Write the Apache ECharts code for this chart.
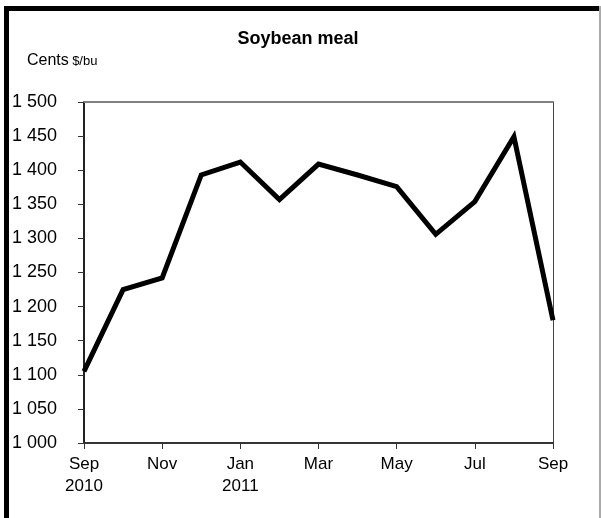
<!DOCTYPE html>
<html>
<head>
<meta charset="utf-8">
<script src="https://cdn.jsdelivr.net/npm/echarts@6/dist/echarts.min.js"></script>
<style>
html,body{margin:0;padding:0;background:#fff;}
#chart{width:601px;height:518px;}
</style>
</head>
<body>
<div id="chart"></div>
<script>
const months = ['Sep 2010','Oct 2010','Nov 2010','Dec 2010','Jan 2011','Feb 2011','Mar 2011','Apr 2011','May 2011','Jun 2011','Jul 2011','Aug 2011','Sep 2011'];
const xTickLabels = ['Sep\n2010','','Nov','','Jan\n2011','','Mar','','May','','Jul','','Sep'];
const soybeanMeal = [1105, 1225, 1242, 1393, 1412, 1357, 1409, 1393, 1376, 1306, 1354, 1449, 1180];
const yTickValues = [1000,1050,1100,1150,1200,1250,1300,1350,1400,1450,1500];
const yTickLabels = ['1 000','1 050','1 100','1 150','1 200','1 250','1 300','1 350','1 400','1 450','1 500'];

const font = 'Liberation Sans, Arial, sans-serif';
const chart = echarts.init(document.getElementById('chart'), null, {renderer:'canvas'});
chart.setOption({
  animation:false,
  backgroundColor:'#fff',
  title:{
    text:'Soybean meal',
    left:293, top:25, textAlign:'center',
    textStyle:{fontFamily:font,fontWeight:'bold',fontSize:18,color:'#000'}
  },
  graphic:[
    {type:'rect',shape:{x:4,y:6,width:5,height:512},style:{fill:'#000'}},
    {type:'rect',shape:{x:4,y:6,width:597,height:5},style:{fill:'#000'}},
    {type:'rect',shape:{x:599,y:6,width:2,height:512},style:{fill:'#aaa'}},
    {type:'text',left:27,top:53,style:{
      text:'{a|Cents} {b|$/bu}',
      rich:{a:{fontFamily:font,fontSize:16,fill:'#000'},b:{fontFamily:font,fontSize:13,fill:'#000'}}
    }}
  ],
  grid:{left:84,right:48,top:102,bottom:75,containLabel:false},
  xAxis:[{
    type:'category',data:months,boundaryGap:false,
    axisLine:{lineStyle:{color:'#333',width:2}},
    axisTick:{show:true,interval:1,length:6,lineStyle:{color:'#333',width:1}},
    axisLabel:{interval:1,margin:10,fontFamily:font,fontSize:17,color:'#000',lineHeight:22,
      formatter:(v,i)=>xTickLabels[i]},
    splitLine:{show:false}
  },{
    type:'category',data:months,boundaryGap:false,position:'top',
    axisLine:{lineStyle:{color:'#808080',width:2}},
    axisTick:{show:false},axisLabel:{show:false},splitLine:{show:false}
  }],
  yAxis:[{
    type:'value',min:1000,max:1500,interval:50,
    axisLine:{show:true,lineStyle:{color:'#222',width:2}},
    axisTick:{show:true,length:6,lineStyle:{color:'#333',width:1}},
    axisLabel:{margin:27,fontFamily:font,fontSize:18,color:'#000',
      formatter:v=>yTickLabels[yTickValues.indexOf(v)]},
    splitLine:{show:false}
  },{
    type:'value',min:1000,max:1500,interval:50,position:'right',
    axisLine:{show:true,lineStyle:{color:'#444',width:1}},
    axisTick:{show:false},axisLabel:{show:false},splitLine:{show:false}
  }],
  series:[{
    type:'line',data:soybeanMeal,symbol:'none',
    lineStyle:{color:'#000',width:5,join:'miter'},
    z:5
  }]
});
</script>
</body>
</html>
